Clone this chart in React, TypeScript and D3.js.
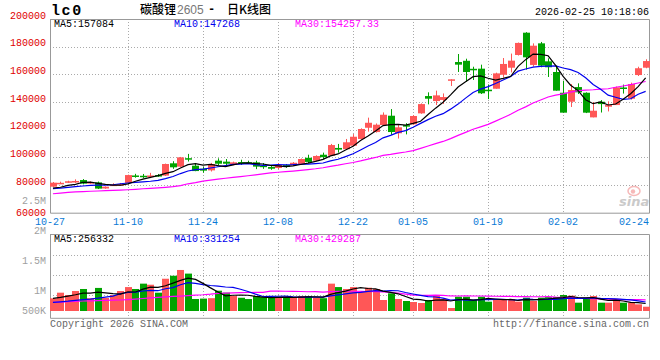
import React from 'react';
import * as d3 from 'd3';

// ---------- data ----------
const dates = [
  '10-27','10-28','10-29','10-30','10-31',
  '11-03','11-04','11-05','11-06','11-07',
  '11-10','11-11','11-12','11-13','11-14',
  '11-17','11-18','11-19','11-20','11-21',
  '11-24','11-25','11-26','11-27','11-28',
  '12-01','12-02','12-03','12-04','12-05',
  '12-08','12-09','12-10','12-11','12-12',
  '12-15','12-16','12-17','12-18','12-19',
  '12-22','12-23','12-24','12-25','12-26',
  '12-29','12-30','12-31',
  '01-05','01-06','01-07','01-08','01-09',
  '01-12','01-13','01-14','01-15','01-16',
  '01-19','01-20','01-21','01-22','01-23',
  '01-26','01-27','01-28','01-29','01-30',
  '02-02','02-03','02-04','02-05','02-06',
  '02-09','02-10','02-11','02-12','02-13',
  '02-24','02-25',
];

const opens = [
  78800, 81300, 81700, 82600, 83600, 81000, 81900, 77500, 80000, 80300,
  81500, 86900, 86700, 86600, 87200, 86800, 95700, 93300, 99400, 94000,
  91800, 90600, 97600, 96900, 94700, 96600, 96500, 96400, 94000, 93000,
  92300, 94400, 94200, 95000, 99700, 97600, 101900, 101200, 106800, 105900,
  108400, 113300, 121400, 118300, 123400, 130100, 117400, 123300, 123900, 131800,
  144300, 140700, 141500, 156200, 168900, 169800, 164000, 164100, 148900, 149600,
  159700, 164800, 174000, 190100, 166800, 182400, 169400, 161700, 146700, 140200,
  150800, 146700, 128900, 140200, 136600, 137800, 150500, 142400, 159500, 164800,
];
const highs = [
  82200, 82400, 83100, 84100, 84300, 82600, 82500, 79000, 81300, 81500,
  87500, 88100, 88000, 88800, 88000, 95500, 97200, 100300, 102500, 95900,
  93200, 96000, 99300, 98800, 96900, 98300, 97600, 97600, 95900, 93700,
  95900, 95200, 96600, 99200, 101900, 101500, 103400, 109700, 109700, 113300,
  116800, 121000, 128700, 124500, 132500, 134900, 124000, 124700, 130500, 139000,
  147000, 148200, 146200, 156400, 174700, 171300, 165500, 167000, 152700, 161200,
  171800, 175000, 183000, 190500, 182400, 183400, 171600, 166300, 155400, 153000,
  153500, 147000, 140000, 141400, 140500, 151200, 152600, 154000, 165500, 170900,
];
const lows = [
  78500, 80700, 81500, 81500, 80500, 80800, 77100, 77300, 79400, 79600,
  81200, 85300, 84800, 85000, 85900, 86500, 91700, 93000, 97000, 90000,
  88900, 89800, 94000, 93200, 94300, 94500, 95400, 91500, 91700, 91000,
  91500, 92400, 93800, 94600, 95900, 97200, 98800, 101100, 103400, 105300,
  108000, 112800, 118600, 117900, 123200, 116300, 113600, 116600, 123500, 131500,
  138300, 137800, 138600, 151600, 161700, 154700, 155900, 145800, 142100, 149600,
  157800, 161400, 173600, 163400, 165500, 165100, 158100, 148200, 132300, 136400,
  145800, 132000, 128900, 132400, 133200, 137800, 146100, 141700, 158800, 164400,
];
const closes = [
  81700, 81600, 82700, 82900, 81000, 82200, 77400, 78800, 80300, 80600,
  87200, 86600, 86400, 86900, 86900, 95200, 92800, 100000, 99000, 90100,
  90400, 95200, 95400, 95400, 96400, 96300, 96300, 93300, 93600, 91800,
  94500, 93100, 96100, 98800, 96700, 101000, 100100, 108900, 105600, 110900,
  114900, 120500, 125000, 123600, 130800, 118300, 121700, 122200, 129900, 138500,
  142400, 144800, 143600, 156400, 167000, 161700, 163000, 146300, 147800, 160700,
  167500, 169900, 182700, 172300, 180700, 166300, 165100, 148200, 132300, 148700,
  147000, 132300, 133700, 138500, 137800, 150600, 149800, 153000, 164400, 169600,
];
// volume (lots)
const volumes = [
  594000, 857000, 749000, 936000, 1030000, 600000, 1080000, 608000, 749000, 936000,
  1120000, 1030000, 1280000, 1230000, 857000, 1510000, 1650000, 1920000, 1750000, 562000,
  580000, 600000, 950000, 860000, 700000, 620000, 560000, 700000, 650000, 620000,
  650000, 620000, 650000, 700000, 700000, 620000, 600000, 1280000, 1120000, 1030000,
  1120000, 903000, 1090000, 1030000, 515000, 828000, 562000, 468000, 421000, 374000,
  515000, 749000, 562000, 140000, 670000, 670000, 515000, 670000, 437000, 515000,
  515000, 560000, 437000, 624000, 468000, 624000, 650000, 650000, 749000, 718000,
  390000, 594000, 702000, 390000, 390000, 468000, 390000, 390000, 312000, 200000,
];

// moving-average values before the window starts
const ma5Head = [77700, 78400, 79700, 80500];
const ma10Head = [77400, 77800, 78300, 78800, 79300, 79700, 79900, 80000, 80200];
const ma30Head = [
  73700, 74200, 74700, 75000, 75300, 75500, 75700, 75900, 76100, 76300,
  76600, 76900, 77300, 77600, 77900, 78300, 78800, 79600, 80900, 81700,
  82800, 83500, 84200, 84900, 85500, 86100, 86700, 87300, 88000,
];
const vMa5Head = [594000, 640000, 700000, 760000];
const vMa10Head = [407000, 430000, 460000, 500000, 530000, 560000, 600000, 650000, 700000];
const vMa30Head = [
  407000, 420000, 435000, 450000, 468000, 475000, 485000, 495000, 505000, 515000,
  535000, 560000, 585000, 610000, 640000, 660000, 680000, 700000, 720000, 740000,
  760000, 790000, 828000, 840000, 850000, 860000, 865000, 870000, 875000,
];

const priceTicks = [200000, 180000, 160000, 140000, 120000, 100000, 80000, 60000];
const dateTicks = ['10-27', '11-10', '11-24', '12-08', '12-22', '01-05', '01-19', '02-02', '02-24'];
const volTickLabels = ['2.5M', '2M', '1.5M', '1M', '500K'];
const priceLegend = ['MA5:157084', 'MA10:147268', 'MA30:154257.33'];
const volLegend = ['MA5:256332', 'MA10:331254', 'MA30:429287'];
const titleName = '碳酸锂';
const titleCode = '2605';
const titleDash = '-';
const titleRest = '日K线图';
const symbol = 'lc0';
const timestamp = '2026-02-25 10:18:06';

// ---------- helpers ----------
function movingAvg(vals: number[], n: number, head: number[]) {
  return vals.map((_, i) => (i < n - 1 ? head[i] : (d3.mean(vals.slice(i - n + 1, i + 1)) as number)));
}

const UP = '#ff5757';
const DOWN = '#00a300';
const GRID = '#aaaaaa';
const AXIS = '#999999';
const MONO = '"Liberation Mono", "DejaVu Sans Mono", monospace';
const CJK = '"Noto Sans CJK SC", sans-serif';
const LEGEND_COLORS = ['#000000', '#0000ee', '#ff00ff'];

export default function App() {
  const W = 660, H = 360;
  const L = 50, R = 649.5;
  const mTop = 19, mBot = 212.7;
  const vTop = 234, vBot = 318.3, vBase = 311;

  const xBand = d3.scaleBand<number>().domain(d3.range(dates.length)).range([49.2, 649.4]);
  const cx = (i: number) => (xBand(i) as number) + xBand.step() / 2;
  const y = d3.scaleLinear().domain([60000, 200000]).range([mBot, mTop]);
  const yv = d3.scaleLinear().domain([0, 2000000]).range([vBase, vBase - 2000000 / 46800]);

  const ma5 = movingAvg(closes, 5, ma5Head);
  const ma10 = movingAvg(closes, 10, ma10Head);
  const ma30 = movingAvg(closes, 30, ma30Head);
  const vma5 = movingAvg(volumes, 5, vMa5Head);
  const vma10 = movingAvg(volumes, 10, vMa10Head);
  const vma30 = movingAvg(volumes, 30, vMa30Head);

  const line = (arr: number[], sc: d3.ScaleLinear<number, number>) =>
    d3.line<number>().x((_, i) => cx(i)).y((d) => sc(d))(arr) as string;

  const bw = 6;
  const tickIdx = dateTicks.map((d) => dates.indexOf(d));
  const gridIdx = tickIdx.slice(1, tickIdx.length - 1);

  return (
    <svg width={W} height={H} style={{ position: 'absolute', left: 0, top: 0, background: '#fff' }}
      fontFamily={MONO} fontSize={10}>
      <rect x={0} y={0} width={W} height={H} fill="#fff" />

      {/* header */}
      <text x={51} y={15} fontSize={15} fontWeight="bold" letterSpacing={1.6} fill="#000">{symbol}</text>
      <text x={140} y={14} fontSize={12} fontFamily={CJK} fontWeight={500} fill="#000">{titleName}</text>
      <text x={177} y={14} fontSize={12} fontFamily='"Liberation Sans", sans-serif' fill="#777">{titleCode}</text>
      <text x={208} y={13} fontSize={12} fontFamily={MONO} fontWeight="bold" fill="#000">{titleDash}</text>
      <text x={227} y={14} fontSize={12} fontFamily={CJK} fontWeight={500} fill="#000">{titleRest}</text>
      <text x={649} y={15} textAnchor="end" fill="#000">{timestamp}</text>

      {/* main panel grid */}
      {priceTicks.slice(1, priceTicks.length - 1).map((t) => (
        <line key={'hg' + t} x1={L} x2={R} y1={Math.round(y(t)) + 0.5} y2={Math.round(y(t)) + 0.5}
          stroke={GRID} strokeDasharray="1,2" />
      ))}
      {gridIdx.map((i) => (
        <line key={'vg' + i} x1={Math.round(cx(i)) + 0.5} x2={Math.round(cx(i)) + 0.5} y1={mTop} y2={mBot}
          stroke={GRID} strokeDasharray="1,2" />
      ))}
      {gridIdx.map((i) => (
        <line key={'vvg' + i} x1={Math.round(cx(i)) + 0.5} x2={Math.round(cx(i)) + 0.5} y1={vTop} y2={vBot}
          stroke={GRID} strokeDasharray="1,2" />
      ))}
      {[255.5, 275.5, 295.5].map((yy) => (
        <line key={'vh' + yy} x1={L} x2={R} y1={yy} y2={yy} stroke={GRID} strokeDasharray="1,2" />
      ))}

      {/* sina watermark */}
      <g opacity={0.55}>
        <ellipse cx={634} cy={191} rx={6} ry={4.5} fill="none" stroke="#f08080" strokeWidth={1.5} />
        <circle cx={633} cy={191.5} r={2.2} fill="#f08080" />
        <text x={619} y={206} fontSize={13} fontStyle="italic" fontWeight="bold"
          fontFamily='"DejaVu Sans", sans-serif' fill="#a0a0a0">sina</text>
      </g>

      {/* main panel frame */}
      <path d={`M${L + 0.5},${mTop}V${mBot + 0.5}H${R}V${mTop + 0.5}H${L}`} fill="none" stroke={AXIS} />
      {/* volume frame */}
      <path d={`M${L + 0.5},${vTop}V${vBot}H${R}V${vTop + 0.5}H${L}`} fill="none" stroke={AXIS} />

      {/* candles */}
      {closes.map((c, i) => {
        const o = opens[i];
        const up = c >= o;
        const col = up ? UP : DOWN;
        const x = cx(i);
        const top = y(Math.max(o, c));
        const bot = y(Math.min(o, c));
        return (
          <g key={'c' + i}>
            <line x1={Math.round(x) + 0.5} x2={Math.round(x) + 0.5} y1={y(highs[i])} y2={y(lows[i])} stroke={col} />
            <rect x={Math.round(x) - bw / 2} y={top} width={bw + 1} height={Math.max(1.5, bot - top)} fill={col} />
          </g>
        );
      })}

      {/* price MAs */}
      <path d={line(ma30, y)} fill="none" stroke="#ff00ff" strokeWidth={1.2} />
      <path d={line(ma10, y)} fill="none" stroke="#0000ee" strokeWidth={1.2} />
      <path d={line(ma5, y)} fill="none" stroke="#000" strokeWidth={1.2} />

      {/* volume bars */}
      {volumes.map((v, i) => {
        const up = closes[i] >= opens[i];
        return (
          <rect key={'v' + i} x={Math.round(cx(i)) - bw / 2} y={yv(v)} width={bw + 1} height={vBase - yv(v)}
            fill={up ? UP : DOWN} />
        );
      })}
      <path d={line(vma30, yv)} fill="none" stroke="#ff00ff" strokeWidth={1.2} />
      <path d={line(vma10, yv)} fill="none" stroke="#0000ee" strokeWidth={1.2} />
      <path d={line(vma5, yv)} fill="none" stroke="#000" strokeWidth={1.2} />

      {/* legends */}
      {priceLegend.map((t, k) => (
        <text key={'pl' + k} x={[54, 174, 295][k]} y={27} fill={LEGEND_COLORS[k]}>{t}</text>
      ))}
      {volLegend.map((t, k) => (
        <text key={'vl' + k} x={[54, 174, 295][k]} y={242} fill={LEGEND_COLORS[k]}>{t}</text>
      ))}

      {/* price axis labels */}
      {priceTicks.map((t, k) => (
        <text key={'pt' + t} x={46} y={k === priceTicks.length - 1 ? y(t) + 3.5 : y(t) - 0.5}
          textAnchor="end" fill="#e00000">{t}</text>
      ))}
      {/* volume axis labels */}
      {volTickLabels.map((t, k) => (
        <text key={'vt' + t} x={46} y={[203.5, 234, 264, 294, 314][k]} textAnchor="end" fill="#a0a0a0">{t}</text>
      ))}

      {/* date labels */}
      {dateTicks.map((d, k) => {
        const i = dates.indexOf(d);
        const last = k === dateTicks.length - 1;
        return (
          <text key={'dt' + d} x={last ? 649 : k === 0 ? L : cx(i)} y={224.5} fill="#0a7ad6"
            textAnchor={last ? 'end' : 'middle'}>{d}</text>
        );
      })}

      {/* footer */}
      <text x={50} y={327} fill="#666">Copyright 2026 SINA.COM</text>
      <text x={649} y={327} textAnchor="end" fill="#666">http://finance.sina.com.cn</text>
    </svg>
  );
}
